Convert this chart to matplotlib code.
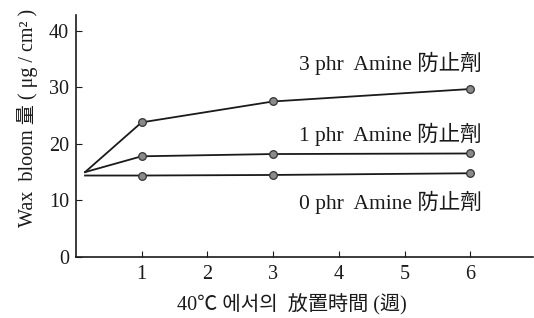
import matplotlib
matplotlib.use('Agg')
from matplotlib import pyplot as plt

# weeks stored at 40C, start point is the untreated initial value
weeks = [0.14, 1, 3, 6]
phr3 = [15.0, 23.8, 27.5, 29.7]
phr1 = [15.0, 17.8, 18.2, 18.3]
phr0 = [14.4, 14.4, 14.5, 14.8]
labels = ['3 phr  Amine 防止劑', '1 phr  Amine 防止劑', '0 phr  Amine 防止劑']
label_y = [34.2, 21.6, 9.7]

fonts = ['Liberation Serif', 'Noto Sans CJK KR', 'DejaVu Sans']
plt.rcParams['font.family'] = fonts

fig = plt.figure(figsize=(5.34, 3.18), dpi=100)
ax = fig.add_axes([0.142, 0.192, 0.856, 0.761])

for vals in [phr3, phr1, phr0]:
    ax.plot(weeks, vals, color='#1a1a1a', lw=1.3, zorder=2)
    ax.plot(weeks[1:], vals[1:], 'o', ms=5.5, mfc='#8a8a8a', mec='#333333',
            mew=0.9, zorder=3)

for txt, y in zip(labels, label_y):
    ax.text(3.4, y, txt, fontsize=15.5, va='center', ha='left', color='#1a1a1a')

ax.set_xlim(0, 6.95)
ax.set_ylim(0, 42.8)
ax.set_xticks([1, 2, 3, 4, 5, 6])
ax.set_yticks([0, 10, 20, 30, 40])
ax.tick_params(direction='in', labelsize=14.5, length=4, colors='#1a1a1a')
ax.tick_params(axis='x', pad=6)
ax.tick_params(axis='y', pad=5)
for s in ['top', 'right']:
    ax.spines[s].set_visible(False)
for s in ['left', 'bottom']:
    ax.spines[s].set_linewidth(1.2)
    ax.spines[s].set_color('#1a1a1a')

fig.text(292 / 534, 1 - 305 / 318, '40℃ 에서의  放置時間 (週)', fontsize=14.5,
         ha='center', va='center', color='#1a1a1a')
fig.text(28 / 534, 1 - 118 / 318, 'Wax  bloom 量 ( μg / cm² )', fontsize=14.5,
         rotation=90, ha='center', va='center', color='#1a1a1a')

fig.savefig('out.png', dpi=100)
